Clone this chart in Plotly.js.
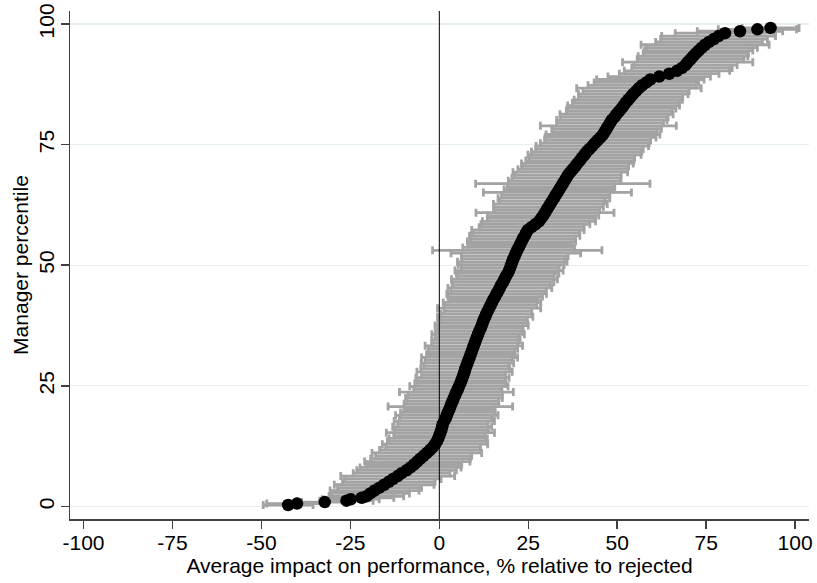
<!DOCTYPE html>
<html>
<head>
<meta charset="utf-8">
<script src="https://cdn.plot.ly/plotly-3.0.1.min.js"></script>
<style>html,body{margin:0;padding:0;background:#fff;}#chart{width:817px;height:583px;}</style>
</head>
<body>
<div id="chart"></div>
<script>
// Manager percentile (y)
const percentile = [
  0.3, 0.6, 0.9, 1.2, 1.5, 1.8,
  2.1, 2.7, 3.3, 3.9, 4.5, 5.1, 5.7, 6.3, 6.9, 7.5,
  8.1, 8.7, 9.3, 9.9, 10.5, 11.1, 11.7, 12.3, 12.9, 13.5,
  14.1, 14.7, 15.3, 15.9, 16.5, 17.1, 17.7, 18.3, 18.9, 19.5,
  20.1, 20.7, 21.3, 21.9, 22.5, 23.1, 23.7, 24.3, 24.9, 25.5,
  26.1, 26.7, 27.3, 27.9, 28.5, 29.1, 29.7, 30.3, 30.9, 31.5,
  32.1, 32.7, 33.3, 33.9, 34.5, 35.1, 35.7, 36.3, 36.9, 37.5,
  38.1, 38.7, 39.3, 39.9, 40.5, 41.1, 41.7, 42.3, 42.9, 43.5,
  44.1, 44.7, 45.3, 45.9, 46.5, 47.1, 47.7, 48.3, 48.9, 49.5,
  50.1, 50.7, 51.3, 51.9, 52.5, 53.1, 53.7, 54.3, 54.9, 55.5,
  56.1, 56.7, 57.3, 57.9, 58.5, 59.1, 59.7, 60.3, 60.9, 61.5,
  62.1, 62.7, 63.3, 63.9, 64.5, 65.1, 65.7, 66.3, 66.9, 67.5,
  68.1, 68.7, 69.3, 69.9, 70.5, 71.1, 71.7, 72.3, 72.9, 73.5,
  74.1, 74.7, 75.3, 75.9, 76.5, 77.1, 77.7, 78.3, 78.9, 79.5,
  80.1, 80.7, 81.3, 81.9, 82.5, 83.1, 83.7, 84.3, 84.9, 85.5,
  86.1, 86.7, 87.3, 87.9, 88.5, 89.1, 89.7, 90.3, 90.9, 91.5,
  92.1, 92.7, 93.3, 93.9, 94.5, 95.1, 95.7, 96.3, 96.9, 97.5,
  98.1, 98.5, 98.9, 99.2
];
// Average impact on performance, % relative to rejected (point estimate)
const impact = [
  -42.5, -40.0, -32.2, -26.1, -24.9, -21.8,
  -20.5, -19.4, -18.2, -16.8, -15.5, -14.2, -13.0, -11.7, -10.6, -9.2,
  -8.1, -7.1, -6.2, -5.3, -4.4, -3.5, -2.6, -1.8, -1.2, -0.7,
  -0.3, 0.0, 0.3, 0.6, 0.8, 1.0, 1.4, 1.8, 2.1, 2.4,
  2.8, 3.1, 3.4, 3.8, 4.1, 4.5, 4.8, 5.2, 5.5, 5.9,
  6.2, 6.5, 6.8, 7.1, 7.3, 7.6, 7.9, 8.2, 8.5, 8.8,
  9.1, 9.4, 9.7, 10.0, 10.3, 10.6, 10.9, 11.2, 11.6, 11.9,
  12.2, 12.5, 12.9, 13.2, 13.6, 14.0, 14.4, 14.8, 15.2, 15.7,
  16.1, 16.6, 17.0, 17.4, 17.9, 18.3, 18.7, 19.2, 19.6, 19.9,
  20.2, 20.5, 20.8, 21.2, 21.5, 21.9, 22.3, 22.7, 23.1, 23.5,
  24.0, 24.4, 24.9, 25.9, 27.0, 28.0, 28.6, 29.2, 29.7, 30.2,
  30.7, 31.2, 31.7, 32.2, 32.7, 33.2, 33.7, 34.2, 34.7, 35.2,
  35.7, 36.2, 36.8, 37.5, 38.2, 38.8, 39.5, 40.1, 40.8, 41.4,
  42.2, 43.0, 43.7, 44.5, 45.3, 46.0, 46.5, 47.0, 47.5, 48.0,
  48.5, 49.2, 49.8, 50.5, 51.2, 51.8, 52.4, 53.1, 53.8, 54.5,
  55.3, 56.1, 57.0, 58.2, 59.3, 61.8, 64.6, 66.8, 68.2, 69.2,
  69.8, 70.6, 71.3, 72.1, 72.9, 73.8, 74.7, 75.8, 77.2, 78.5,
  80.3, 84.5, 89.4, 93.1
];
// Half-width of the confidence interval (symmetric)
const ciHalf = [
  7.0, 8.5, 6.5, 7.5, 8.0, 9.0,
  10.5, 11.0, 12.5, 11.8, 14.0, 13.0, 13.5, 16.0, 13.6, 14.0,
  14.2, 13.4, 14.8, 14.0, 13.5, 15.4, 14.2, 13.3, 14.8, 13.9,
  13.8, 12.8, 15.2, 13.2, 13.9, 12.7, 14.1, 13.0, 14.4, 13.3,
  12.8, 17.5, 13.3, 12.9, 13.6, 13.2, 16.0, 12.4, 13.8, 12.8,
  12.4, 13.1, 11.8, 13.4, 12.5, 11.9, 13.0, 12.2, 13.5, 12.4,
  12.0, 12.6, 13.7, 12.1, 12.4, 11.7, 13.0, 12.3, 11.9, 13.1,
  12.6, 12.1, 13.4, 12.8, 12.3, 14.5, 13.0, 13.7, 12.6, 13.3,
  14.0, 13.4, 14.6, 13.7, 14.3, 14.9, 13.6, 14.4, 15.2, 13.8,
  14.9, 15.4, 14.5, 15.0, 18.2, 23.8, 15.7, 14.6, 15.2, 14.8,
  15.5, 15.0, 15.8, 14.7, 15.3, 15.9, 15.1, 15.6, 19.4, 14.9,
  15.4, 16.0, 14.8, 15.7, 15.2, 20.8, 15.5, 15.1, 24.5, 15.8,
  15.3, 14.9, 16.1, 15.4, 15.0, 15.7, 15.2, 14.8, 15.9, 15.5,
  15.1, 15.8, 15.3, 14.9, 15.6, 16.0, 14.7, 15.4, 19.1, 15.0,
  15.5, 15.1, 15.9, 14.8, 15.3, 15.7, 15.0, 15.2, 14.6, 15.4,
  14.9, 17.5, 15.2, 14.7, 15.1, 14.4, 14.0, 14.8, 14.1, 14.5,
  18.3, 15.0, 15.4, 14.8, 15.2, 15.6, 18.0, 15.0, 15.0, 16.0,
  14.0, 12.0, 11.0, 8.0
];
const xTickVals = [-100, -75, -50, -25, 0, 25, 50, 75, 100];
const xTickText = ['-100', '-75', '-50', '-25', '0', '25', '50', '75', '100'];
const yTickVals = [0, 25, 50, 75, 100];
const yTickText = ['0', '25', '50', '75', '100'];

const FONT = '"Liberation Sans", Arial, Helvetica, sans-serif';
const FS = 21;

const traces = [
  {
    type: 'scatter', mode: 'markers',
    x: impact, y: percentile,
    error_x: { type: 'data', array: ciHalf, symmetric: true, color: '#a3a3a3', thickness: 2.8, width: 4 },
    marker: { color: 'rgba(0,0,0,0)', size: 1 },
    hoverinfo: 'skip'
  },
  {
    type: 'scatter', mode: 'markers',
    x: impact, y: percentile,
    marker: { color: '#000', size: 12.5, line: { width: 0 } }
  }
];

const layout = {
  width: 817, height: 583,
  margin: { l: 70, r: 8, t: 11, b: 64, pad: 0 },
  paper_bgcolor: '#fff', plot_bgcolor: '#fff',
  showlegend: false,
  font: { family: FONT, size: FS, color: '#000' },
  xaxis: {
    range: [-103.8, 103.9],
    tickmode: 'array', tickvals: xTickVals, ticktext: xTickText,
    showgrid: false, zeroline: false,
    showline: true, linecolor: '#404040', linewidth: 1.5,
    ticks: 'outside', ticklen: 8, tickwidth: 1.5, tickcolor: '#404040',
    ticklabelstandoff: -4,
    tickfont: { family: FONT, size: FS, color: '#000' },
    title: { text: 'Average impact on performance, % relative to rejected', font: { family: FONT, size: FS, color: '#000' }, standoff: 2 },
    automargin: false
  },
  yaxis: {
    range: [-2.6, 102.7],
    tickmode: 'array', tickvals: yTickVals, ticktext: yTickText,
    tickangle: -90,
    showgrid: true, gridcolor: '#e7eef1', gridwidth: 1.2,
    zeroline: false,
    showline: true, linecolor: '#404040', linewidth: 1.5,
    ticks: 'outside', ticklen: 8, tickwidth: 1.5, tickcolor: '#404040',
    ticklabelstandoff: -2,
    tickfont: { family: FONT, size: FS, color: '#000' },
    title: { text: 'Manager percentile', font: { family: FONT, size: FS, color: '#000' }, standoff: 0 },
    automargin: false
  },
  shapes: [
    { type: 'line', xref: 'x', yref: 'paper', x0: 0, x1: 0, y0: 0, y1: 1, line: { color: '#000', width: 1 }, layer: 'above' }
  ]
};

Plotly.newPlot('chart', traces, layout, { staticPlot: true, displayModeBar: false });
</script>
</body>
</html>
